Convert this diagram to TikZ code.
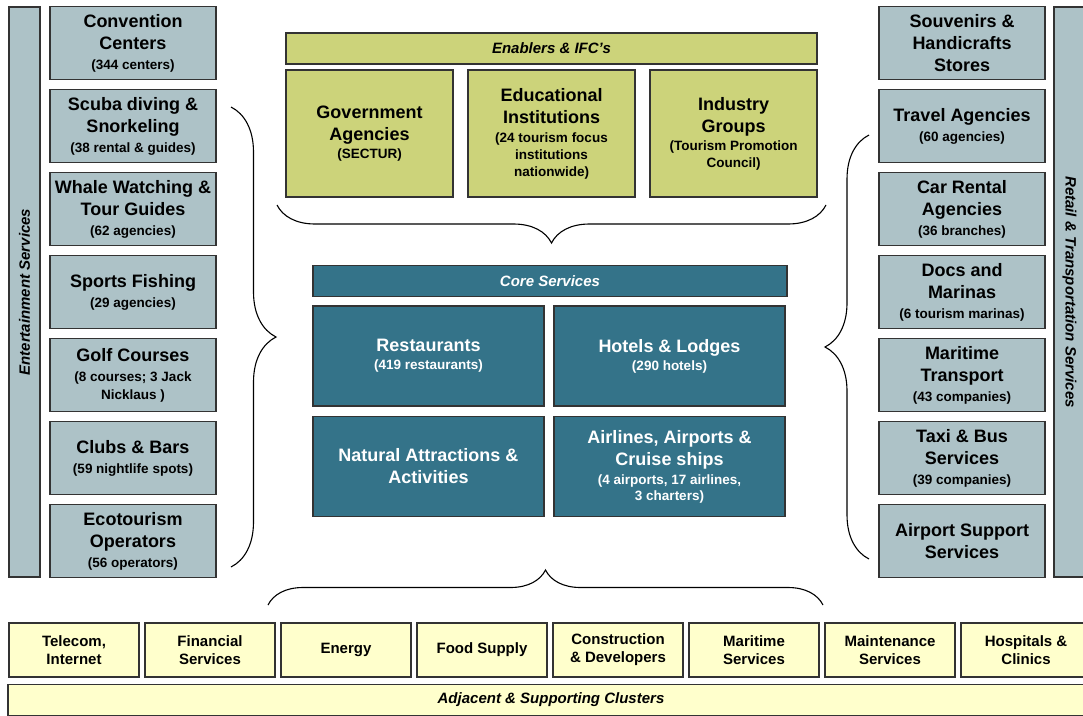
\documentclass[tikz,border=0pt]{standalone}
\usepackage{fontspec}
\setmainfont{Liberation Sans}
\usetikzlibrary{decorations.pathreplacing}

\definecolor{steelgrey}{RGB}{173,194,199}
\definecolor{enablergreen}{RGB}{204,211,122}
\definecolor{coreteal}{RGB}{52,115,137}
\definecolor{paleyellow}{RGB}{255,255,204}

\newcommand{\subt}{\fontsize{13.5}{16}\selectfont}

\tikzstyle{box} = [rectangle, align=center, draw=black!80, line width=1.2pt, inner sep=2pt]
\tikzstyle{service} = [box, minimum width=166pt, minimum height=73pt, fill=steelgrey, font=\fontsize{18}{22}\selectfont\bfseries]
\tikzstyle{sidebar} = [box, minimum width=570pt, minimum height=31pt, fill=steelgrey, font=\fontsize{15}{18}\selectfont\bfseries\itshape]
\tikzstyle{enabler} = [box, minimum width=167pt, minimum height=127pt, fill=enablergreen, font=\fontsize{18}{22}\selectfont\bfseries]
\tikzstyle{core} = [box, minimum width=231pt, minimum height=100pt, fill=coreteal, text=white, font=\fontsize{18}{22}\selectfont\bfseries]
\tikzstyle{support} = [box, minimum width=130pt, minimum height=54pt, fill=paleyellow, font=\fontsize{15}{18}\selectfont\bfseries]
\tikzstyle{header} = [box, minimum height=31pt, font=\fontsize{15}{18}\selectfont\bfseries\itshape]
\tikzstyle{curly} = [decorate, line width=1.1pt]

\begin{document}
\begin{tikzpicture}[x=1pt, y=-1pt, node distance=83pt]
			\useasboundingbox (0,0) rectangle (1083,715);

			% entertainment services
			\node (ent) [sidebar, rotate=90] at (24.5,292) {Entertainment Services};
			\node (e0) [service] at (133,43) {Convention\\Centers\\[-2pt]\subt (344 centers)};
			\node (e1) [service, below of=e0] {Scuba diving \&\\Snorkeling\\[-2pt]\subt (38 rental \& guides)};
			\node (e2) [service, below of=e1] {Whale Watching \&\\Tour Guides\\[-2pt]\subt (62 agencies)};
			\node (e3) [service, below of=e2] {Sports Fishing\\[-2pt]\subt (29 agencies)};
			\node (e4) [service, below of=e3] {Golf Courses\\[-2pt]\subt (8 courses; 3 Jack\\[-4pt]\subt Nicklaus )};
			\node (e5) [service, below of=e4] {Clubs \& Bars\\[-2pt]\subt (59 nightlife spots)};
			\node (e6) [service, below of=e5] {Ecotourism\\Operators\\[-2pt]\subt (56 operators)};

			% retail & transportation services
			\node (ret) [sidebar, rotate=-90] at (1069.5,292) {Retail \& Transportation Services};
			\node (r0) [service] at (962,43) {Souvenirs \&\\Handicrafts\\Stores};
			\node (r1) [service, below of=r0] {Travel Agencies\\[-2pt]\subt (60 agencies)};
			\node (r2) [service, below of=r1] {Car Rental\\Agencies\\[-2pt]\subt (36 branches)};
			\node (r3) [service, below of=r2] {Docs and\\Marinas\\[-2pt]\subt (6 tourism marinas)};
			\node (r4) [service, below of=r3] {Maritime\\Transport\\[-2pt]\subt (43 companies)};
			\node (r5) [service, below of=r4] {Taxi \& Bus\\Services\\[-2pt]\subt (39 companies)};
			\node (r6) [service, below of=r5] {Airport Support\\Services};

			% enablers
			\node (en) [header, fill=enablergreen, minimum width=531pt] at (551.5,48.5) {Enablers \& IFC’s};
			\node (g) [enabler] at (369.5,133.5) {Government\\Agencies\\[-4pt]\subt (SECTUR)};
			\node (ed) [enabler, right of=g, node distance=182pt] {Educational\\Institutions\\[-3pt]\subt (24 tourism focus\\[-5pt]\subt institutions\\[-5pt]\subt nationwide)};
			\node (ig) [enabler, right of=ed, node distance=182pt] {Industry\\Groups\\[-4pt]\subt (Tourism Promotion\\[-5pt]\subt Council)};

			% core
			\node (cs) [header, fill=coreteal, text=white, minimum width=474pt] at (550,281) {Core Services};
			\node (c1) [core] at (428.5,356) {Restaurants\\[-4pt]\subt (419 restaurants)};
			\node (c2) [core, right of=c1, node distance=241pt] {Hotels \& Lodges\\[-4pt]\subt (290 hotels)};
			\node (c3) [core, below of=c1, node distance=110.5pt] {Natural Attractions \&\\Activities};
			\node (c4) [core, below of=c2, node distance=110.5pt] {Airlines, Airports \&\\Cruise ships\\[-3pt]\subt (4 airports, 17 airlines,\\[-6pt]\subt 3 charters)};

			% supporting clusters
			\node (s0) [support] at (74,650) {Telecom,\\Internet};
			\node (s1) [support, right of=s0, node distance=136pt] {Financial\\Services};
			\node (s2) [support, right of=s1, node distance=136pt] {Energy};
			\node (s3) [support, right of=s2, node distance=136pt] {Food Supply};
			\node (s4) [support, right of=s3, node distance=136pt] {Construction\\\& Developers};
			\node (s5) [support, right of=s4, node distance=136pt] {Maritime\\Services};
			\node (s6) [support, right of=s5, node distance=136pt] {Maintenance\\Services};
			\node (s7) [support, right of=s6, node distance=136pt] {Hospitals \&\\Clinics};
			\node (adj) [header, fill=paleyellow, minimum width=1086pt] at (551,700) {Adjacent \& Supporting Clusters};

			% braces
			\coordinate (lt) at (231,107);
			\coordinate (lb) at (231,567);
			\coordinate (rt) at (869,135);
			\coordinate (rb) at (869,559);
			\coordinate (tl) at (277,205);
			\coordinate (tr) at (826,205);
			\coordinate (bl) at (268,605);
			\coordinate (br) at (823,605);
			\draw [curly, decoration={brace, amplitude=45pt}] (lt) -- (lb);
			\draw [curly, decoration={brace, amplitude=44pt}] (rb) -- (rt);
			\draw [curly, decoration={brace, amplitude=38pt}] (tr) -- (tl);
			\draw [curly, decoration={brace, amplitude=35pt}] (bl) -- (br);
		\end{tikzpicture}
\end{document}
